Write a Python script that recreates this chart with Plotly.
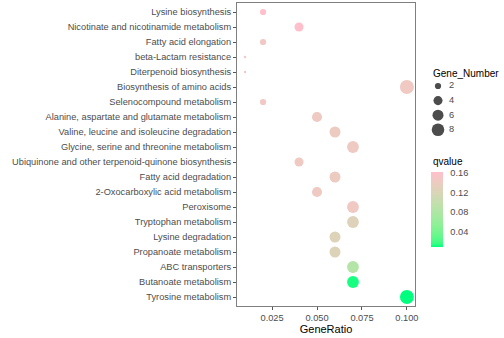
import numpy as np
import plotly.graph_objects as go

# KEGG enrichment results
pathways = [
    "Lysine biosynthesis",
    "Nicotinate and nicotinamide metabolism",
    "Fatty acid elongation",
    "beta-Lactam resistance",
    "Diterpenoid biosynthesis",
    "Biosynthesis of amino acids",
    "Selenocompound metabolism",
    "Alanine, aspartate and glutamate metabolism",
    "Valine, leucine and isoleucine degradation",
    "Glycine, serine and threonine metabolism",
    "Ubiquinone and other terpenoid-quinone biosynthesis",
    "Fatty acid degradation",
    "2-Oxocarboxylic acid metabolism",
    "Peroxisome",
    "Tryptophan metabolism",
    "Lysine degradation",
    "Propanoate metabolism",
    "ABC transporters",
    "Butanoate metabolism",
    "Tyrosine metabolism",
]
gene_ratio = [0.02, 0.04, 0.02, 0.01, 0.01, 0.10, 0.02, 0.05, 0.06, 0.07,
              0.04, 0.06, 0.05, 0.07, 0.07, 0.06, 0.06, 0.07, 0.07, 0.10]
gene_number = [2, 4, 2, 1, 1, 10, 2, 5, 6, 7,
               4, 6, 5, 7, 7, 6, 6, 7, 7, 10]
qvalue = [0.162, 0.162, 0.146, 0.152, 0.152, 0.145, 0.146, 0.142, 0.140, 0.142,
          0.142, 0.140, 0.142, 0.145, 0.125, 0.124, 0.124, 0.085, 0.012, 0.009]

size_legend_values = [2, 4, 6, 8]
qvalue_ticks = [0.04, 0.08, 0.12, 0.16]
x_ticks = [0.025, 0.050, 0.075, 0.100]

W, H = 504, 338
ML, MT, MB = 237, 3, 32


# ---- colour gradient interpolated in CIE Lab (springgreen -> pink) ----
def srgb_to_lab(hexcol):
    c = np.array([int(hexcol[i:i + 2], 16) for i in (1, 3, 5)]) / 255.0
    c = np.where(c <= 0.04045, c / 12.92, ((c + 0.055) / 1.055) ** 2.4)
    M = np.array([[0.4124, 0.3576, 0.1805],
                  [0.2126, 0.7152, 0.0722],
                  [0.0193, 0.1192, 0.9505]])
    xyz = M @ c / np.array([0.95047, 1.0, 1.08883])
    f = np.where(xyz > 0.008856, np.cbrt(xyz), 7.787 * xyz + 16 / 116)
    return np.array([116 * f[1] - 16, 500 * (f[0] - f[1]), 200 * (f[1] - f[2])])


def lab_to_rgb(lab):
    L, a, b = lab
    fy = (L + 16) / 116
    fx = fy + a / 500
    fz = fy - b / 200
    f = np.array([fx, fy, fz])
    xyz = np.where(f ** 3 > 0.008856, f ** 3, (f - 16 / 116) / 7.787)
    xyz = xyz * np.array([0.95047, 1.0, 1.08883])
    Minv = np.array([[3.2406, -1.5372, -0.4986],
                     [-0.9689, 1.8758, 0.0415],
                     [0.0557, -0.2040, 1.0570]])
    c = Minv @ xyz
    c = np.where(c <= 0.0031308, 12.92 * c, 1.055 * np.clip(c, 0, None) ** (1 / 2.4) - 0.055)
    c = np.clip(np.round(c * 255), 0, 255).astype(int)
    return "rgb(%d,%d,%d)" % tuple(c)


low, high = srgb_to_lab("#00FF7F"), srgb_to_lab("#FFC0CB")
colorscale = [[t, lab_to_rgb(low + (high - low) * t)] for t in np.linspace(0, 1, 21)]


# ---- point size scale (area-based, like ggplot's scale_size) ----
n_min, n_max = min(gene_number), max(gene_number)


def point_diameter(n):
    return 2.33 * (1 + 5 * np.sqrt((n - n_min) / (n_max - n_min)))


def px_x(px):
    return (px - ML) / (W - ML)


def px_y(py):
    return 1 - (py - MT) / (H - MT - MB)


font_family = "Liberation Sans, Arial, sans-serif"
grey_text = "#4D4D4D"
label_size = 9.25

# colourbar geometry (page pixels)
CB_LEFT, CB_TOP, CB_LEN, CB_THICK = 431, 172, 75, 12
q_lo, q_hi = min(qvalue), max(qvalue)

fig = go.Figure()

fig.add_trace(go.Scatter(
    x=gene_ratio,
    y=pathways,
    mode="markers",
    marker=dict(
        size=[point_diameter(n) for n in gene_number],
        sizemode="diameter",
        color=qvalue,
        colorscale=colorscale,
        cmin=q_lo,
        cmax=q_hi,
        line=dict(width=0),
        opacity=1,
        colorbar=dict(
            x=px_x(CB_LEFT), xanchor="left",
            y=px_y(CB_TOP), yanchor="top",
            lenmode="pixels", len=CB_LEN,
            thickness=CB_THICK,
            xpad=0, ypad=0,
            outlinewidth=0,
            tickvals=qvalue_ticks,
            ticktext=["%.2f" % v for v in qvalue_ticks],
            ticks="outside", ticklen=6, tickcolor="rgba(0,0,0,0)",
            tickfont=dict(family=font_family, size=label_size, color=grey_text),
        ),
    ),
    showlegend=False,
    hoverinfo="x+y",
))

# size legend drawn on an auxiliary pixel-scaled axis pair
leg_y = [86 + 14.6 * i for i in range(len(size_legend_values))]
fig.add_trace(go.Scatter(
    x=[438] * len(size_legend_values),
    y=leg_y,
    xaxis="x2", yaxis="y2",
    mode="markers",
    marker=dict(size=[point_diameter(n) for n in size_legend_values],
                color="black", line=dict(width=0)),
    showlegend=False, hoverinfo="skip",
))
fig.add_trace(go.Scatter(
    x=[449] * len(size_legend_values),
    y=leg_y,
    xaxis="x2", yaxis="y2",
    mode="text",
    text=[str(v) for v in size_legend_values],
    textposition="middle right",
    textfont=dict(family=font_family, size=label_size, color=grey_text),
    showlegend=False, hoverinfo="skip",
))

# short white tick marks across both edges of the colourbar
shapes = []
for v in qvalue_ticks:
    ty = CB_TOP + (q_hi - v) / (q_hi - q_lo) * CB_LEN
    for x0 in (CB_LEFT, CB_LEFT + CB_THICK - 2.5):
        shapes.append(dict(type="line", xref="paper", yref="paper",
                           x0=px_x(x0), x1=px_x(x0 + 2.5), y0=px_y(ty), y1=px_y(ty),
                           line=dict(color="white", width=1)))

fig.update_layout(
    width=W, height=H,
    margin=dict(l=ML, r=0, t=MT, b=MB, pad=0, autoexpand=False),
    paper_bgcolor="white",
    plot_bgcolor="white",
    font=dict(family=font_family, size=label_size, color=grey_text),
    xaxis=dict(
        domain=[0, px_x(415)],
        range=[0.0055, 0.1045],
        tickvals=x_ticks,
        ticktext=["%.3f" % v for v in x_ticks],
        ticks="outside", ticklen=3, tickcolor="#555555",
        showgrid=False, zeroline=False,
        showline=True, linecolor="#7F7F7F", linewidth=1, mirror=True,
        tickfont=dict(family=font_family, size=label_size, color=grey_text),
        title=dict(text="GeneRatio", standoff=2,
                   font=dict(family=font_family, size=11, color="black")),
    ),
    yaxis=dict(
        type="category",
        categoryorder="array",
        categoryarray=pathways[::-1],
        range=[-0.6, len(pathways) - 0.4],
        ticks="outside", ticklen=3, tickcolor="#555555",
        showgrid=False, zeroline=False,
        showline=True, linecolor="#7F7F7F", linewidth=1, mirror=True,
        tickfont=dict(family=font_family, size=label_size, color=grey_text),
    ),
    xaxis2=dict(domain=[px_x(420), 1], range=[420, W], anchor="y2",
                visible=False, fixedrange=True),
    yaxis2=dict(domain=[0, 1], range=[H - MB, MT], anchor="x2",
                visible=False, fixedrange=True),
    shapes=shapes,
    annotations=[
        dict(text="Gene_Number", xref="paper", yref="paper",
             x=px_x(431), y=px_y(73), xanchor="left", yanchor="middle",
             showarrow=False,
             font=dict(family=font_family, size=10, color="black")),
        dict(text="qvalue", xref="paper", yref="paper",
             x=px_x(431), y=px_y(161), xanchor="left", yanchor="middle",
             showarrow=False,
             font=dict(family=font_family, size=10, color="black")),
    ],
)

fig.write_html("out.html")
